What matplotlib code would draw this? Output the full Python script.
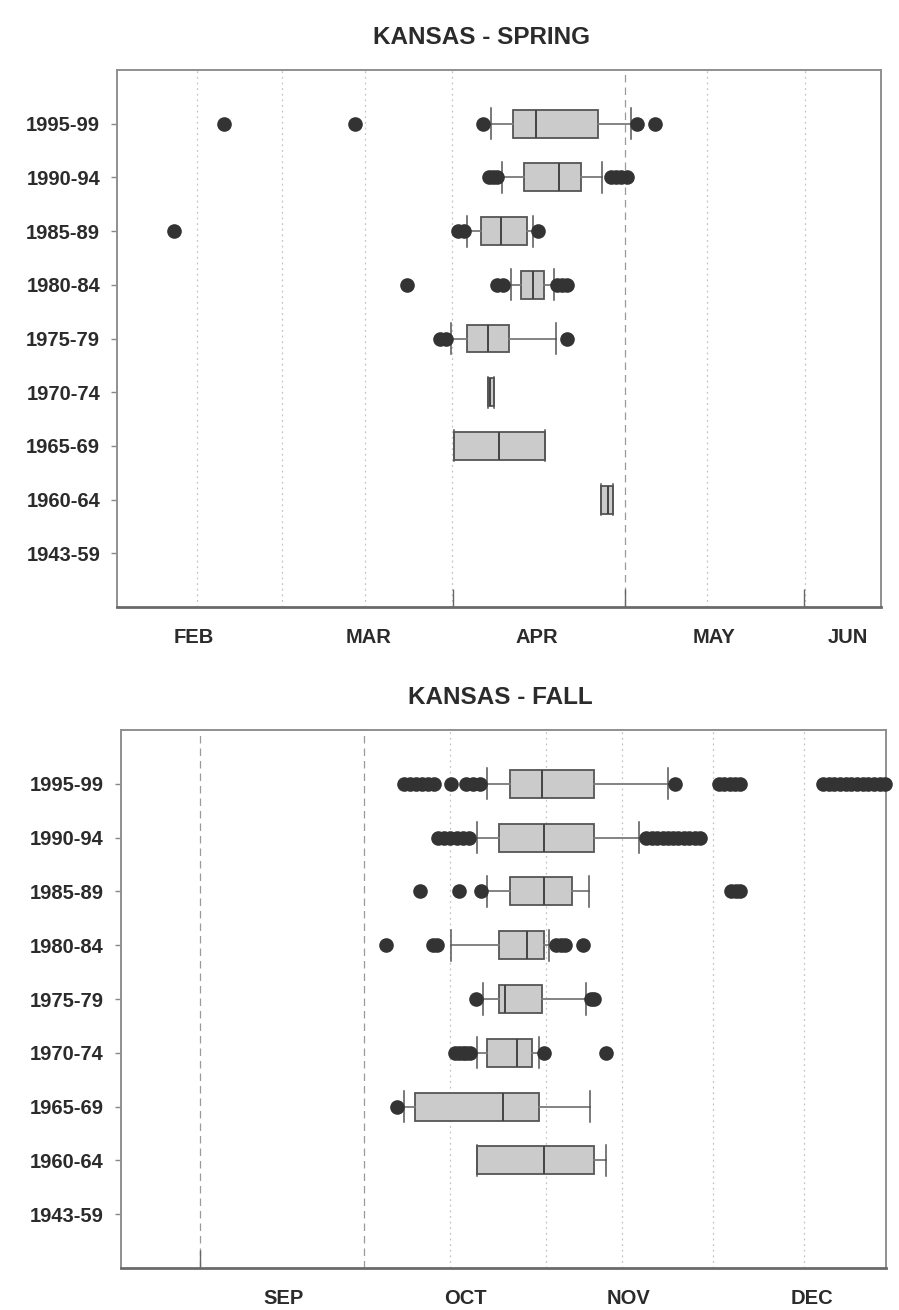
import matplotlib.pyplot as plt
from matplotlib.ticker import FixedLocator

plt.rcParams['font.family'] = ['Liberation Sans', 'DejaVu Sans']

# x values are day of year (Jan 1 = 1)
periods = ['1995-99', '1990-94', '1985-89', '1980-84', '1975-79',
           '1970-74', '1965-69', '1960-64', '1943-59']

# spring (None = no data for that period)
spring_lo = [97.4, 99.3, 93.2, 100.9, 90.3, 96.8, 90.9, 116.8, None]
spring_q1 = [101.2, 103.2, 95.7, 102.6, 93.1, 96.8, 90.9, 116.8, None]
spring_med = [105.4, 109.4, 99.2, 104.8, 96.8, 97.3, 98.8, 117.9, None]
spring_q3 = [116.3, 113.3, 103.8, 106.7, 100.5, 97.9, 106.9, 118.9, None]
spring_hi = [122.0, 117.0, 104.8, 108.4, 108.8, 97.9, 106.9, 118.9, None]
spring_out = [
    [50.5, 73.4, 96.0, 123.1, 126.2],
    [97.0, 97.7, 98.4, 118.5, 119.4, 120.3, 121.3],
    [41.6, 91.6, 92.6, 105.7],
    [82.7, 98.4, 99.5, 109.0, 109.9, 110.7],
    [88.4, 89.4, 110.8],
    [], [], [], [],
]

# fall
fall_lo = [295.1, 293.3, 295.1, 288.8, 294.4, 293.3, 280.5, 293.3, None]
fall_q1 = [299.2, 297.2, 299.2, 297.2, 297.3, 295.2, 282.5, 293.3, None]
fall_med = [304.9, 305.2, 305.2, 302.1, 298.3, 300.5, 297.9, 305.2, None]
fall_q3 = [314.0, 314.0, 310.0, 305.2, 304.9, 303.1, 304.2, 313.9, None]
fall_hi = [326.9, 321.9, 313.0, 306.0, 312.6, 304.2, 313.3, 316.1, None]
fall_out = [
    [280.5, 281.6, 282.6, 283.7, 284.8, 285.8, 288.8, 291.4, 292.6, 293.9,
     328.2, 335.9, 336.8, 337.8, 338.7, 339.6,
     354.2, 355.2, 356.2, 357.2, 358.2, 359.2, 360.2, 361.2, 362.2, 363.2,
     364.2, 365.2],
    [286.5, 287.6, 288.7, 289.8, 290.9, 292.0,
     323.1, 324.1, 325.0, 326.0, 326.9, 327.9, 328.8, 329.8, 330.7, 331.7,
     332.6],
    [283.4, 290.2, 294.1, 338.0, 338.9, 339.7],
    [277.4, 285.6, 286.3, 307.3, 308.1, 308.9, 312.0],
    [293.2, 313.4, 313.9],
    [289.5, 290.2, 290.9, 291.5, 292.1, 305.2, 316.1],
    [279.4],
    [], [],
]

spring_months = ['FEB', 'MAR', 'APR', 'MAY', 'JUN']
spring_month_pos = [45.1, 75.9, 105.5, 136.6, 160.2]
spring_ticks = [90.7, 120.9, 152.5]
spring_dashed = [120.9]
spring_dotted = [45.6, 60.7, 75.2, 90.5, 135.4, 152.6]

fall_months = ['SEP', 'OCT', 'NOV', 'DEC']
fall_month_pos = [259.3, 291.3, 320.0, 352.3]
fall_ticks = [244.7]
fall_dashed = [244.7, 273.5]
fall_dotted = [288.6, 305.5, 318.9, 334.9, 350.9]

txt = '#2b2b2b'


def draw(ax, lo, q1, med, q3, hi, outs, xlim, dashed, dotted, ticks, mpos, mlab):
    for x in dotted:
        ax.axvline(x, color='#c4c4c4', lw=0.9, ls=(0, (1.5, 3)), zorder=0)
    for x in dashed:
        ax.axvline(x, color='#9a9a9a', lw=0.9, ls=(0, (6, 4)), zorder=0)

    stats, pos = [], []
    for i in range(len(periods)):
        if med[i] is None:
            continue
        stats.append(dict(med=med[i], q1=q1[i], q3=q3[i], whislo=lo[i],
                          whishi=hi[i], fliers=outs[i], label=periods[i]))
        pos.append(i)

    res = ax.bxp(stats, positions=pos, orientation='horizontal', widths=0.52,
                 capwidths=0.58, patch_artist=True, manage_ticks=False,
                 boxprops=dict(facecolor='#cbcbcb', edgecolor='#555555', lw=1.3),
                 medianprops=dict(color='#444444', lw=1.4),
                 whiskerprops=dict(color='#7a7a7a', lw=1.3),
                 capprops=dict(color='#555555', lw=1.1),
                 flierprops=dict(marker='o', markersize=9.5, markerfacecolor='#333333',
                                 markeredgecolor='#333333'))
    for f in res['fliers']:
        f.set_clip_on(False)
        f.set_zorder(4)

    ax.set_xlim(*xlim)
    ax.set_ylim(9, -1)
    ax.set_yticks(range(len(periods)))
    ax.set_yticklabels(periods, fontsize=14.5, fontweight='bold', color=txt)
    ax.tick_params(axis='y', length=4.5, width=1, color='#888888', pad=8)

    ax.set_xticks(mpos)
    ax.set_xticklabels(mlab, fontsize=14.5, fontweight='bold', color=txt)
    ax.xaxis.set_minor_locator(FixedLocator(ticks))
    ax.tick_params(axis='x', which='major', length=0, pad=15)
    ax.tick_params(axis='x', which='minor', direction='in', length=13,
                   width=1, color='#666666')

    for s in ax.spines.values():
        s.set_color('#8f8f8f')
        s.set_linewidth(1.4)
    ax.spines['bottom'].set_color('#6a6a6a')
    ax.spines['bottom'].set_linewidth(2)


fig = plt.figure(figsize=(8.99, 13.10), dpi=100)
ax1 = fig.add_axes([0.1307, 0.5366, 0.8493, 0.41])
ax2 = fig.add_axes([0.1346, 0.0321, 0.851, 0.4106])

draw(ax1, spring_lo, spring_q1, spring_med, spring_q3, spring_hi, spring_out,
     (31.7, 166.0), spring_dashed, spring_dotted, spring_ticks,
     spring_month_pos, spring_months)
draw(ax2, fall_lo, fall_q1, fall_med, fall_q3, fall_hi, fall_out,
     (230.8, 365.3), fall_dashed, fall_dotted, fall_ticks,
     fall_month_pos, fall_months)

fig.text(481 / 899, 1 - 38 / 1310, 'KANSAS - SPRING', ha='center', va='center',
         fontsize=17.5, fontweight='bold', color=txt)
fig.text(500 / 899, 1 - 697 / 1310, 'KANSAS - FALL', ha='center', va='center',
         fontsize=17.5, fontweight='bold', color=txt)

fig.savefig('out.png', dpi=100)
